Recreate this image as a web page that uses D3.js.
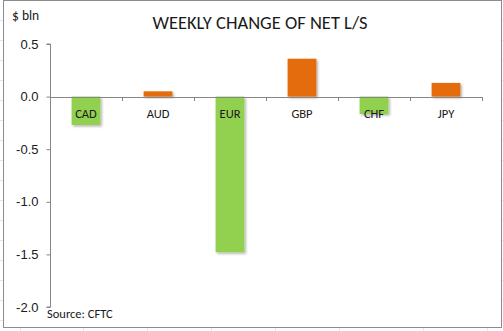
<!DOCTYPE html>
<html>
<head>
<meta charset="utf-8">
<script src="https://cdn.jsdelivr.net/npm/d3@7"></script>
<style>
  html, body { margin: 0; padding: 0; background: #ffffff; }
  svg { display: block; font-family: Carlito, Lato, "Open Sans", sans-serif; }
</style>
</head>
<body>
<svg id="chart" width="503" height="331"></svg>
<script>
// Weekly change of net long/short positioning, $ bln
const categories = ["CAD", "AUD", "EUR", "GBP", "CHF", "JPY"];
const values = [-0.27, 0.05, -1.48, 0.36, -0.165, 0.13];
const yTicks = [0.5, 0.0, -0.5, -1.0, -1.5, -2.0];
const colorUp = "#E46C0A";
const colorDown = "#92D050";

const svg = d3.select("#chart");
const W = 503, H = 331;

// faint worksheet grid around the chart frame
const grid = svg.append("g").attr("stroke", "#e6e6e6").attr("stroke-width", 1);
[20, 83, 147, 211, 275, 339, 423, 487].forEach(x => {
  grid.append("line").attr("x1", x + 0.5).attr("x2", x + 0.5).attr("y1", 328).attr("y2", H);
});
[20, 40, 60, 80, 100, 120, 140, 160, 180, 200, 220, 240, 260, 280, 300, 320].forEach(y => {
  grid.append("line").attr("x1", 0).attr("x2", 3).attr("y1", y + 0.5).attr("y2", y + 0.5);
  grid.append("line").attr("x1", 501).attr("x2", W).attr("y1", y + 0.5).attr("y2", y + 0.5);
});

// chart frame
svg.append("rect")
  .attr("x", 3.5).attr("y", 0.5).attr("width", 498).attr("height", 327)
  .attr("fill", "#ffffff").attr("stroke", "#8c8c8c").attr("stroke-width", 1);

const x = d3.scaleBand().domain(categories).range([50, 482])
  .paddingInner(0.6).paddingOuter(0.3);
const y = d3.scaleLinear().domain([-2, 0.5]).range([307, 44]);

// soft shadow under the bars
const defs = svg.append("defs");
const f = defs.append("filter").attr("id", "shadow")
  .attr("x", "-20%").attr("y", "-20%").attr("width", "150%").attr("height", "150%");
f.append("feDropShadow").attr("dx", 1.5).attr("dy", 1.5).attr("stdDeviation", 1.2)
  .attr("flood-color", "#000").attr("flood-opacity", 0.3);

// bars
svg.append("g").selectAll("rect").data(categories).join("rect")
  .attr("x", (c) => x(c))
  .attr("width", x.bandwidth())
  .attr("y", (c, i) => y(Math.max(0, values[i])))
  .attr("height", (c, i) => Math.abs(y(values[i]) - y(0)))
  .attr("fill", (c, i) => values[i] >= 0 ? colorUp : colorDown)
  .attr("filter", "url(#shadow)");

// y axis
const yAxis = d3.axisLeft(y).tickValues(yTicks).tickFormat(d3.format(".1f")).tickSize(4).tickPadding(8);
const gy = svg.append("g").attr("transform", "translate(50.5,0)").call(yAxis);
gy.select(".domain").attr("stroke", "#868686").attr("d", `M-4,${y(0.5)}H0V${y(-2)}H-4`);
gy.selectAll(".tick line").attr("stroke", "#868686");
gy.selectAll(".tick text").attr("fill", "#1a1a1a").style("font-size", "13px")
  .text(d => d3.format(".1f")(d).replace("−", "-"));

// zero line with category boundary ticks
const step = x.step();
const bounds = categories.map(c => x(c) + x.bandwidth() / 2 - step / 2)
  .concat([x(categories[categories.length - 1]) + x.bandwidth() / 2 + step / 2]);
const zx = svg.append("g").attr("stroke", "#868686").attr("stroke-width", 1);
zx.append("line").attr("x1", 50).attr("x2", bounds[bounds.length - 1])
  .attr("y1", Math.round(y(0)) + 0.5).attr("y2", Math.round(y(0)) + 0.5);
zx.selectAll("line.t").data(bounds.slice(1)).join("line").attr("class", "t")
  .attr("x1", d => Math.round(d) + 0.5).attr("x2", d => Math.round(d) + 0.5)
  .attr("y1", Math.round(y(0))).attr("y2", Math.round(y(0)) + 4);

// category labels
svg.append("g").selectAll("text").data(categories).join("text")
  .attr("x", c => x(c) + x.bandwidth() / 2)
  .attr("y", 118)
  .attr("text-anchor", "middle")
  .attr("fill", "#1a1a1a")
  .style("font-size", "12.5px")
  .text(c => c);

// title and annotations
svg.append("text").attr("x", 260).attr("y", 29).attr("text-anchor", "middle")
  .attr("fill", "#1a1a1a").style("font-size", "18.5px").text("WEEKLY CHANGE OF NET L/S");
svg.append("text").attr("x", 12).attr("y", 20)
  .attr("fill", "#1a1a1a").style("font-size", "13.5px").text("$ bln");
svg.append("text").attr("x", 47).attr("y", 318)
  .attr("fill", "#1a1a1a").style("font-size", "12.5px").text("Source: CFTC");
</script>
</body>
</html>
